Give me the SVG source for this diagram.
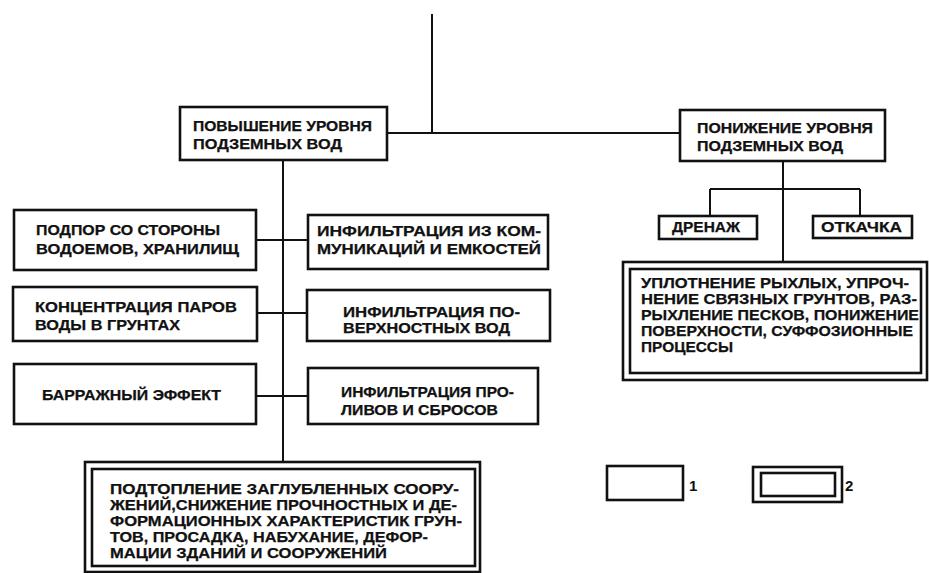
<svg xmlns="http://www.w3.org/2000/svg" width="929" height="573" viewBox="0 0 929 573">
<style>
.bx{fill:#fff;stroke:#111;stroke-width:2.6}
.ln{fill:none;stroke:#111;stroke-width:2}
.t{font-family:"Liberation Sans",Arial,sans-serif;font-weight:bold;font-size:14.5px;fill:#111;stroke:#111;stroke-width:0.25}
.lg{font-family:"Liberation Sans",Arial,sans-serif;font-weight:bold;font-size:15px;fill:#111}
</style>
<rect width="929" height="573" fill="#fff"/>
<g id="connectors">
<path class="ln" d="M432 14V133M387 133H680"/>
<path class="ln" d="M283 160V463M256 240H308M257 313H307M256 396H308"/>
<path class="ln" d="M783 161V262M710 189H860M710 189V216M860 189V216"/>
</g>
<g id="n-raise">
<rect class="bx" x="180" y="107" width="207" height="53"/>
<text class="t" x="193" y="131" textLength="179" lengthAdjust="spacingAndGlyphs">ПОВЫШЕНИЕ УРОВНЯ</text>
<text class="t" x="193" y="149" textLength="149" lengthAdjust="spacingAndGlyphs">ПОДЗЕМНЫХ ВОД</text>
</g>
<g id="n-lower">
<rect class="bx" x="680" y="110" width="205" height="51"/>
<text class="t" x="697" y="133" textLength="176" lengthAdjust="spacingAndGlyphs">ПОНИЖЕНИЕ УРОВНЯ</text>
<text class="t" x="697" y="151" textLength="146" lengthAdjust="spacingAndGlyphs">ПОДЗЕМНЫХ ВОД</text>
</g>
<g id="n-podpor">
<rect class="bx" x="14" y="210" width="242" height="60"/>
<text class="t" x="36" y="235" textLength="184" lengthAdjust="spacingAndGlyphs">ПОДПОР СО СТОРОНЫ</text>
<text class="t" x="36" y="254" textLength="203" lengthAdjust="spacingAndGlyphs">ВОДОЕМОВ, ХРАНИЛИЩ</text>
</g>
<g id="n-inf-kom">
<rect class="bx" x="308" y="215" width="240" height="54"/>
<text class="t" x="317" y="236" textLength="224" lengthAdjust="spacingAndGlyphs">ИНФИЛЬТРАЦИЯ ИЗ КОМ-</text>
<text class="t" x="317" y="254" textLength="224" lengthAdjust="spacingAndGlyphs">МУНИКАЦИЙ И ЕМКОСТЕЙ</text>
</g>
<g id="n-konc">
<rect class="bx" x="13" y="287" width="244" height="54"/>
<text class="t" x="35" y="312" textLength="202" lengthAdjust="spacingAndGlyphs">КОНЦЕНТРАЦИЯ ПАРОВ</text>
<text class="t" x="35" y="330" textLength="145" lengthAdjust="spacingAndGlyphs">ВОДЫ В ГРУНТАХ</text>
</g>
<g id="n-inf-pov">
<rect class="bx" x="307" y="290" width="243" height="51"/>
<text class="t" x="343" y="317" textLength="177" lengthAdjust="spacingAndGlyphs">ИНФИЛЬТРАЦИЯ ПО-</text>
<text class="t" x="343" y="333" textLength="167" lengthAdjust="spacingAndGlyphs">ВЕРХНОСТНЫХ ВОД</text>
</g>
<g id="n-barr">
<rect class="bx" x="14" y="364" width="242" height="60"/>
<text class="t" x="42" y="400" textLength="179" lengthAdjust="spacingAndGlyphs">БАРРАЖНЫЙ ЭФФЕКТ</text>
</g>
<g id="n-inf-pro">
<rect class="bx" x="308" y="368" width="230" height="56"/>
<text class="t" x="341" y="397" textLength="173" lengthAdjust="spacingAndGlyphs">ИНФИЛЬТРАЦИЯ ПРО-</text>
<text class="t" x="341" y="415" textLength="157" lengthAdjust="spacingAndGlyphs">ЛИВОВ И СБРОСОВ</text>
</g>
<g id="n-drain">
<rect class="bx" x="659" y="216" width="98" height="23"/>
<text class="t" x="672" y="232" textLength="68" lengthAdjust="spacingAndGlyphs">ДРЕНАЖ</text>
</g>
<g id="n-pump">
<rect class="bx" x="813" y="216" width="99" height="22"/>
<text class="t" x="821" y="232" textLength="81" lengthAdjust="spacingAndGlyphs">ОТКАЧКА</text>
</g>
<g id="n-result-right">
<rect class="bx" x="623" y="262" width="304" height="118"/>
<rect class="bx" x="630" y="269" width="291" height="104" stroke-width="2"/>
<text class="t" x="641" y="288" textLength="268" lengthAdjust="spacingAndGlyphs">УПЛОТНЕНИЕ РЫХЛЫХ, УПРОЧ-</text>
<text class="t" x="641" y="304" textLength="276" lengthAdjust="spacingAndGlyphs">НЕНИЕ СВЯЗНЫХ ГРУНТОВ, РАЗ-</text>
<text class="t" x="641" y="320" textLength="278" lengthAdjust="spacingAndGlyphs">РЫХЛЕНИЕ ПЕСКОВ, ПОНИЖЕНИЕ</text>
<text class="t" x="641" y="336" textLength="272" lengthAdjust="spacingAndGlyphs">ПОВЕРХНОСТИ, СУФФОЗИОННЫЕ</text>
<text class="t" x="641" y="352" textLength="92" lengthAdjust="spacingAndGlyphs">ПРОЦЕССЫ</text>
</g>
<g id="n-result-left">
<rect class="bx" x="85" y="462" width="395" height="110"/>
<rect class="bx" x="92" y="469" width="383" height="97" stroke-width="2"/>
<text class="t" x="110" y="494" textLength="349" lengthAdjust="spacingAndGlyphs">ПОДТОПЛЕНИЕ ЗАГЛУБЛЕННЫХ СООРУ-</text>
<text class="t" x="110" y="510" textLength="347" lengthAdjust="spacingAndGlyphs">ЖЕНИЙ,СНИЖЕНИЕ ПРОЧНОСТНЫХ И ДЕ-</text>
<text class="t" x="110" y="526" textLength="352" lengthAdjust="spacingAndGlyphs">ФОРМАЦИОННЫХ ХАРАКТЕРИСТИК ГРУН-</text>
<text class="t" x="110" y="542" textLength="318" lengthAdjust="spacingAndGlyphs">ТОВ, ПРОСАДКА, НАБУХАНИЕ, ДЕФОР-</text>
<text class="t" x="110" y="558" textLength="277" lengthAdjust="spacingAndGlyphs">МАЦИИ ЗДАНИЙ И СООРУЖЕНИЙ</text>
</g>
<g id="legend-1">
<rect class="bx" x="607" y="466" width="76" height="34"/>
<text class="lg" x="689" y="491">1</text>
</g>
<g id="legend-2">
<rect class="bx" x="753" y="467" width="89" height="35"/>
<rect class="bx" x="761" y="473" width="74" height="23" stroke-width="2"/>
<text class="lg" x="845" y="491">2</text>
</g>
</svg>
